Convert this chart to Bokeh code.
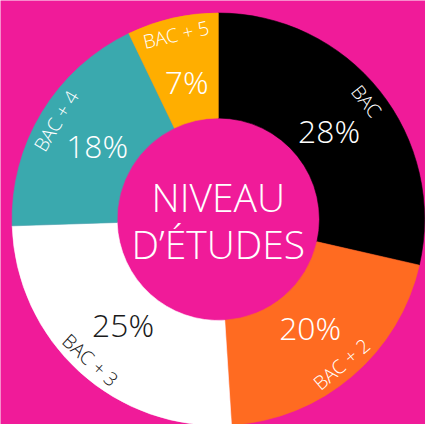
import math
from bokeh.plotting import figure
from bokeh.models import Range1d, ColumnDataSource
from bokeh.core.properties import value
from bokeh.embed import file_html
from bokeh.resources import INLINE

# ---- data ----
categories = ["BAC", "BAC + 2", "BAC + 3", "BAC + 4", "BAC + 5"]
percents = [28, 20, 25, 18, 7]
slice_colors = ["#000000", "#FF6B21", "#FFFFFF", "#3AA9AE", "#FFAE00"]
text_colors = ["#FFFFFF", "#FFFFFF", "#1A1A1A", "#FFFFFF", "#FFFFFF"]
title_lines = ["NIVEAU", "D\u2019\u00c9TUDES"]

BG = "#F01B99"
W, H = 425, 424
S = 425 / 441.0
CX, CY = 226 * S, H - 227 * S
R_OUT, R_IN = 214 * S, 105 * S
R_PCT, R_LAB = 147 * S, 197 * S
FONT = value("Open Sans Light")

total = float(sum(percents))
starts, ends, mids = [], [], []
cum = 0.0
for v in percents:
    a_hi = 90.0 - 360.0 * cum / total
    cum += v
    a_lo = 90.0 - 360.0 * cum / total
    starts.append(math.radians(a_lo))
    ends.append(math.radians(a_hi))
    mids.append((a_lo + a_hi) / 2.0)

pct_x = [CX + R_PCT * math.cos(math.radians(m)) for m in mids]
pct_y = [CY + R_PCT * math.sin(math.radians(m)) for m in mids]
lab_x = [CX + R_LAB * math.cos(math.radians(m)) for m in mids]
lab_y = [CY + R_LAB * math.sin(math.radians(m)) for m in mids]
lab_rot = [math.radians(m - 90 if math.sin(math.radians(m)) >= 0 else m + 90) for m in mids]

src = ColumnDataSource(dict(
    cat=categories, pct=[f"{v}%" for v in percents], color=slice_colors,
    tcolor=text_colors, start=starts, end=ends,
    px=pct_x, py=pct_y, lx=lab_x, ly=lab_y, rot=lab_rot,
))

p = figure(width=W, height=H, x_range=Range1d(0, W), y_range=Range1d(0, H),
           output_backend="svg", toolbar_location=None,
           x_axis_location=None, y_axis_location=None, min_border=0,
           background_fill_color=BG, border_fill_color=BG, outline_line_color=None)
p.grid.visible = False

p.annular_wedge(x=CX, y=CY, inner_radius=R_IN, outer_radius=R_OUT,
                start_angle="start", end_angle="end", fill_color="color",
                line_color="color", line_width=0.6, source=src)

p.text(x="px", y="py", text="pct", text_color="tcolor", text_font=FONT,
       text_font_size=f"{33 * S:.1f}px", text_align="center", text_baseline="middle",
       source=src)

p.text(x="lx", y="ly", text="cat", angle="rot", text_color="tcolor", text_font=FONT,
       text_font_size=f"{20 * S:.1f}px", text_align="center", text_baseline="middle",
       source=src)

p.text(x=[CX, CX], y=[CY + 23.5 * S, CY - 25.5 * S], text=title_lines, text_color="#FFFFFF",
       text_font=FONT, text_font_size=f"{40.5 * S:.1f}px", text_align="center",
       text_baseline="middle")

open("out.html", "w").write(file_html(p, INLINE))
